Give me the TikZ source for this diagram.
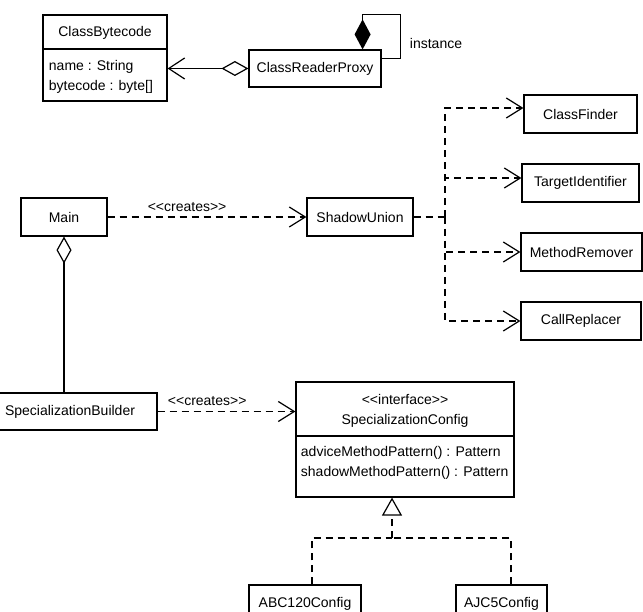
\documentclass[tikz,border=0pt]{standalone}
\usepackage{fontspec}
\setmainfont{Liberation Sans}
\usetikzlibrary{arrows.meta,calc}
\newcommand\stereo[1]{<{}<#1>{}>}

\tikzset{
	box/.style={draw, line width=1.2pt, minimum height=38pt, inner sep=0pt},
	dashline/.style={line width=1.2pt, dash pattern=on 7pt off 5pt},
	dep/.style={dashline, -{Straight Barb[length=16pt,width=20pt]}},
	aggr/.style={{Diamond[open,length=27pt,width=15pt]}-},
	nav/.style={{Diamond[open,length=27pt,width=15pt]}-{Straight Barb[length=16pt,width=21pt]}},
	compo/.style={{Diamond[length=30pt,width=16pt]}-},
	realize/.style={dashline, -{Triangle[open,length=18pt,width=20pt]}}
}

\begin{document}
\begin{tikzpicture}[x=1pt,y=-1pt,line width=1.2pt,font=\fontsize{14}{16}\selectfont]
			%%%%% START %%%%%
			\useasboundingbox (0,0) rectangle (643,612);
			
			\node[box, minimum width=124pt, minimum height=86pt] (cb) at (105,58) {};
			\draw ([yshift=9pt]cb.west) -- ([yshift=9pt]cb.east);
			\node (cbname) at (105,33) {ClassBytecode};
			\node[anchor=west] (cbf1) at (45,67) {name : String};
			\node[anchor=west] (cbf2) at (45,87) {bytecode : byte[]};
			
			\node[box, minimum width=132pt, minimum height=37pt] (crp) at (315,68.5) {ClassReaderProxy};
			\draw[nav] (crp.west) -- (crp.west -| cb.east);
			\draw[compo] ([xshift=-19pt]crp.north east) -- ++(0,-35) -| ([xshift=19pt,yshift=10pt]crp.east) -- ([yshift=10pt]crp.east);
			\node[anchor=west] (inst) at (406,43) {instance};
			
			\node[box, minimum width=86pt] (main) at (64,217) {Main};
			\node[box, minimum width=106pt] (su) at (360,217) {ShadowUnion};
			\draw[dep] (main) -- node[pos=0.4, above, inner sep=5pt] (lbl1) {\stereo{creates}} (su);
			
			\coordinate (fork) at (445,217);
			\node[box, minimum width=113pt] (cf) at (580.5,114) {ClassFinder};
			\node[box, minimum width=117pt] (ti) at (580.5,183) {TargetIdentifier};
			\node[box, minimum width=121pt] (mr) at (581.5,252) {MethodRemover};
			\node[box, minimum width=120pt] (cr) at (581,321) {CallReplacer};
			\draw[dashline] (su.east) -- (fork);
			\draw[dep] (fork) |- ([yshift=6pt]cf.west);
			\draw[dep] (fork) |- ([yshift=5pt]ti.west);
			\draw[dep] (fork) |- (mr.west);
			\draw[dep] (fork) |- (cr.west);
			
			\node[box, minimum width=174pt, minimum height=37pt] (sb) at (70,411.5) {SpecializationBuilder};
			\draw[aggr] (main.south) -- (main.south |- sb.north);
			
			\node[box, minimum width=218pt, minimum height=115pt] (sc) at (405,439.5) {};
			\draw ([yshift=3.5pt]sc.west) -- ([yshift=3.5pt]sc.east);
			\node (scst) at (405,399) {\stereo{interface}};
			\node (scname) at (405,421) {SpecializationConfig};
			\node[anchor=west] (scm1) at (297,453) {adviceMethodPattern() : Pattern};
			\node[anchor=west] (scm2) at (297,473) {shadowMethodPattern() : Pattern};
			\draw[dep] (sb.east) -- node[pos=0.36, above, inner sep=5pt] (lbl2) {\stereo{creates}} (sb.east -| sc.west);
			
			\coordinate (real) at (392,538);
			\node[box, minimum width=112pt] (abc) at (305,604) {ABC120Config};
			\node[box, minimum width=91pt] (ajc) at (501.5,604) {AJC5Config};
			\draw[realize] (real) -- (real |- sc.south);
			\draw[dashline] ([xshift=7pt]abc.north) |- (real);
			\draw[dashline] ([xshift=9.5pt]ajc.north) |- (real);
			
			%%%%% END %%%%%
\end{tikzpicture}
\end{document}
